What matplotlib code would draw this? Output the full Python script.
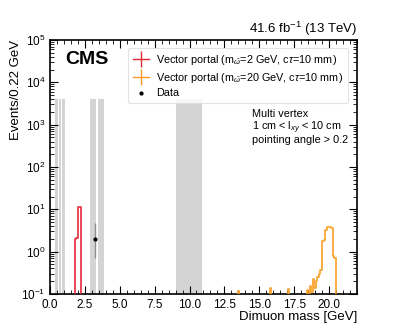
import numpy as np
import matplotlib
matplotlib.use("Agg")
import matplotlib.pyplot as plt
from matplotlib.lines import Line2D

plt.rcParams['font.family'] = ['Liberation Sans', 'DejaVu Sans']
plt.rcParams['mathtext.fontset'] = 'custom'
plt.rcParams['mathtext.rm'] = 'Liberation Sans'
plt.rcParams['mathtext.it'] = 'Liberation Sans:italic'

# vetoed resonance windows (GeV)
veto_lo = [0.35, 0.66, 0.83, 2.85, 3.45, 9.0]
veto_hi = [0.57, 0.77, 1.06, 3.29, 3.88, 10.86]
veto_top = 4000

# signal: vector portal m=2 GeV
red_edges = [1.76, 1.87, 1.98, 2.09, 2.20]
red_vals = [1.95, 2.15, 11.5, 11.5]

# signal: vector portal m=20 GeV
orange_edges = [13.50, 13.58, 15.74, 15.82, 17.03, 17.11, 18.43, 18.51,
                18.62, 18.73, 18.84, 18.95, 19.06, 19.17, 19.28, 19.39,
                19.50, 19.61, 19.72, 19.83, 19.94, 20.05, 20.16, 20.27,
                20.38, 20.49, 20.57]
orange_vals = [0.12, 0.0, 0.14, 0.0, 0.13, 0.0, 0.125, 0.0,
               0.15, 0.11, 0.22, 0.14, 0.2, 0.25, 0.3, 0.36,
               1.8, 1.9, 3.2, 3.9, 3.9, 3.8, 3.6, 0.8,
               0.71, 0.0]

# data
data_x = [3.19]
data_y = [2.0]
data_err_lo = [1.31]
data_err_hi = [2.64]

fig = plt.figure(figsize=(3.97, 3.31), dpi=100)
ax = fig.add_axes([0.126, 0.112, 0.773, 0.767])

for lo, hi in zip(veto_lo, veto_hi):
    ax.fill_between([lo, hi], 1e-3, veto_top, color='#d4d4d4', lw=0, zorder=0)

def step_hist(edges, vals, color):
    xs = np.repeat(edges, 2)
    ys = np.concatenate([[1e-3], np.repeat(vals, 2), [1e-3]])
    ys = np.where(ys <= 0, 1e-3, ys)
    ax.plot(xs, ys, color=color, lw=1.3, alpha=0.9, zorder=3)

step_hist(red_edges, red_vals, '#e42536')
step_hist(orange_edges, orange_vals, '#f89c20')

ax.errorbar(data_x, data_y, yerr=[data_err_lo, data_err_hi], fmt='o', ms=2,
            color='black', ecolor='0.55', elinewidth=1.0, capsize=0, zorder=4)

ax.set_yscale('log')
ax.set_xlim(0, 22)
ax.set_ylim(0.1, 1e5)
ax.set_xticks([0, 2.5, 5, 7.5, 10, 12.5, 15, 17.5, 20])
ax.set_xticklabels(['0.0', '2.5', '5.0', '7.5', '10.0', '12.5', '15.0', '17.5', '20.0'])
ax.xaxis.set_minor_locator(matplotlib.ticker.MultipleLocator(0.5))
ax.tick_params(which='both', direction='in', top=True, right=True, labelsize=8.5)
ax.tick_params(which='major', length=6)
ax.tick_params(which='minor', length=3)
for s in ax.spines.values():
    s.set_linewidth(1.2)

ax.set_xlabel('Dimuon mass [GeV]', fontsize=9.5, loc='right', labelpad=0)
ax.set_ylabel('Events/0.22 GeV', fontsize=9.5, loc='top', labelpad=-1)

ax.text(0.05, 0.955, 'CMS', transform=ax.transAxes, fontsize=14,
        fontweight='bold', va='top', ha='left')
ax.text(1.0, 1.01, r'41.6 fb$^{-1}$ (13 TeV)', transform=ax.transAxes,
        fontsize=9.5, ha='right', va='bottom')
ax.text(0.658, 0.697, 'Multi vertex', transform=ax.transAxes, fontsize=7.8,
        va='baseline', ha='left')
ax.text(0.658, 0.646, '1 cm < l$_{xy}$ < 10 cm', transform=ax.transAxes, fontsize=7.8,
        va='baseline', ha='left')
ax.text(0.658, 0.594, 'pointing angle > 0.2', transform=ax.transAxes, fontsize=7.8,
        va='baseline', ha='left')

handles = [
    Line2D([], [], color='#e42536', marker='|', markersize=11, lw=1.0, mew=1.0),
    Line2D([], [], color='#f89c20', marker='|', markersize=11, lw=1.0, mew=1.0),
    Line2D([], [], color='black', marker='o', markersize=2, lw=0),
]
labels = [r'Vector portal (m$_{\tilde{\omega}}$=2 GeV, c$\tau$=10 mm)',
          r'Vector portal (m$_{\tilde{\omega}}$=20 GeV, c$\tau$=10 mm)',
          'Data']
leg = ax.legend(handles, labels, loc='upper right', bbox_to_anchor=(0.99, 0.99),
                fontsize=7.8, handlelength=1.5, handletextpad=0.7, frameon=True,
                borderpad=0.45, labelspacing=0.35)
leg.get_frame().set_edgecolor('#dddddd')
leg.get_frame().set_linewidth(0.8)

fig.savefig('out.png', dpi=100)
